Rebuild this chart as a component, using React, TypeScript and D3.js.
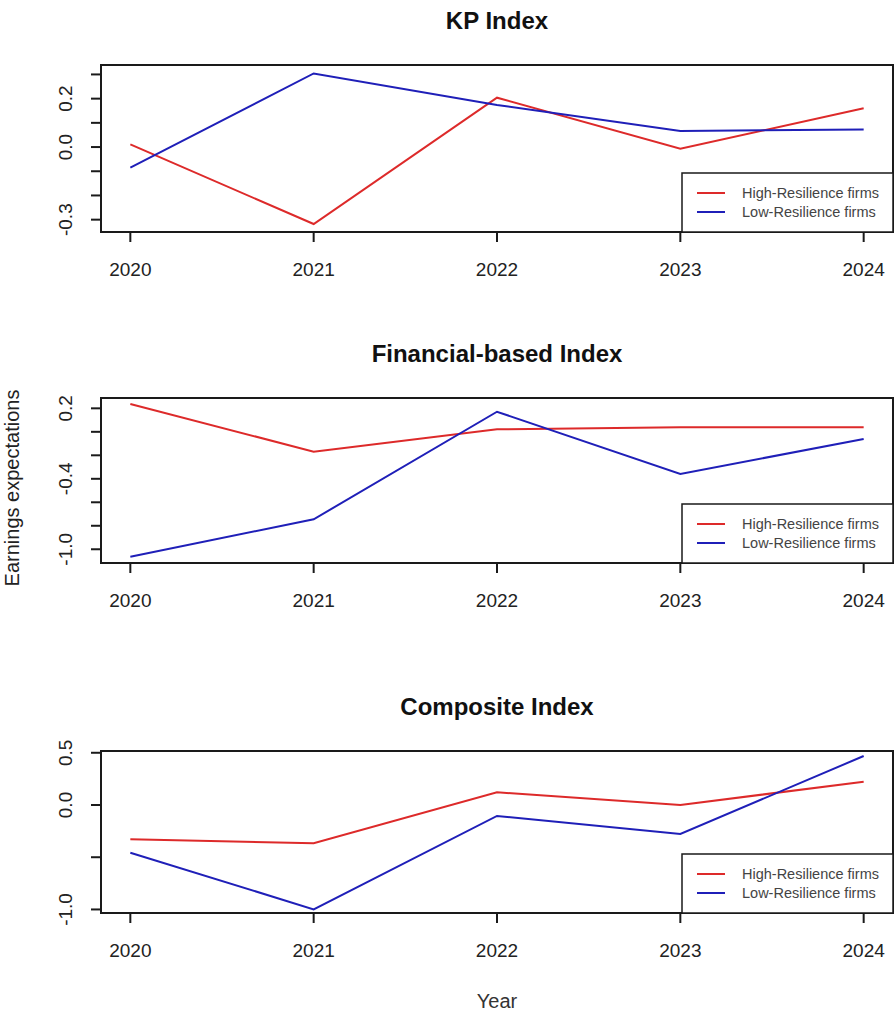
import { useEffect, useRef } from "react";
import * as d3 from "d3";

const years = [2020, 2021, 2022, 2023, 2024];
const seriesNames = ["High-Resilience firms", "Low-Resilience firms"];

const kpHigh = [0.011, -0.318, 0.204, -0.007, 0.16];
const kpLow = [-0.085, 0.304, 0.174, 0.066, 0.073];
const finHigh = [0.237, -0.169, 0.021, 0.038, 0.038];
const finLow = [-1.063, -0.745, 0.171, -0.359, -0.061];
const compHigh = [-0.329, -0.367, 0.122, 0.0, 0.223];
const compLow = [-0.457, -0.999, -0.105, -0.278, 0.469];

const kpTicks = [-0.3, -0.2, -0.1, 0, 0.1, 0.2, 0.3];
const kpLabels = [-0.3, 0, 0.2];
const finTicks = [-1.0, -0.8, -0.6, -0.4, -0.2, 0, 0.2];
const finLabels = [-1.0, -0.4, 0.2];
const compTicks = [-1.0, -0.5, 0, 0.5];
const compLabels = [-1.0, 0, 0.5];

const colors = ["#dd2a2a", "#1f1fb8"];
const font = "'Liberation Sans', Arial, sans-serif";

const width = 895;
const height = 1014;
const left = 101;
const right = 893;

const panels = [
  { title: "KP Index", high: kpHigh, low: kpLow, ticks: kpTicks, labels: kpLabels, domain: [-0.351, 0.339], top: 65, bottom: 232 },
  { title: "Financial-based Index", high: finHigh, low: finLow, ticks: finTicks, labels: finLabels, domain: [-1.117, 0.288], top: 398, bottom: 563 },
  { title: "Composite Index", high: compHigh, low: compLow, ticks: compTicks, labels: compLabels, domain: [-1.034, 0.517], top: 751, bottom: 913 },
];

export default function App() {
  const ref = useRef<SVGSVGElement | null>(null);

  useEffect(() => {
    const svg = d3.select(ref.current);
    svg.selectAll("*").remove();

    const x = d3.scaleLinear().domain([2019.84, 2024.16]).range([left, right]);

    panels.forEach((p) => {
      const y = d3.scaleLinear().domain(p.domain).range([p.bottom, p.top]);
      const g = svg.append("g");

      // title
      g.append("text")
        .attr("x", (left + right) / 2)
        .attr("y", p.top - 36)
        .attr("text-anchor", "middle")
        .attr("font-family", font)
        .attr("font-weight", "bold")
        .attr("font-size", 24)
        .attr("fill", "#111")
        .text(p.title);

      // lines
      [p.high, p.low].forEach((vals, i) => {
        const line = d3
          .line<number>()
          .x((_, j) => x(years[j]))
          .y((d) => y(d));
        g.append("path")
          .datum(vals)
          .attr("fill", "none")
          .attr("stroke", colors[i])
          .attr("stroke-width", 2)
          .attr("d", line);
      });

      // box
      g.append("rect")
        .attr("x", left)
        .attr("y", p.top)
        .attr("width", right - left)
        .attr("height", p.bottom - p.top)
        .attr("fill", "none")
        .attr("stroke", "#1a1a1a")
        .attr("stroke-width", 2);

      // x axis
      years.forEach((yr) => {
        g.append("line")
          .attr("x1", x(yr))
          .attr("x2", x(yr))
          .attr("y1", p.bottom)
          .attr("y2", p.bottom + 10)
          .attr("stroke", "#1a1a1a")
          .attr("stroke-width", 2);
        g.append("text")
          .attr("x", x(yr))
          .attr("y", p.bottom + 44)
          .attr("text-anchor", "middle")
          .attr("font-family", font)
          .attr("font-size", 19)
          .attr("fill", "#222")
          .text(String(yr));
      });

      // y axis
      p.ticks.forEach((t) => {
        g.append("line")
          .attr("x1", left - 10)
          .attr("x2", left)
          .attr("y1", y(t))
          .attr("y2", y(t))
          .attr("stroke", "#1a1a1a")
          .attr("stroke-width", 2);
      });
      p.labels.forEach((t) => {
        g.append("text")
          .attr("transform", `translate(${left - 29},${y(t)}) rotate(-90)`)
          .attr("text-anchor", "middle")
          .attr("font-family", font)
          .attr("font-size", 19)
          .attr("fill", "#222")
          .text(d3.format(".1f")(t).replace("−", "-"));
      });

      // legend
      const lx = 682;
      const ly = p.bottom - 59;
      g.append("rect")
        .attr("x", lx)
        .attr("y", ly)
        .attr("width", right - lx)
        .attr("height", p.bottom - ly)
        .attr("fill", "white")
        .attr("stroke", "#1a1a1a")
        .attr("stroke-width", 1.5);
      seriesNames.forEach((name, i) => {
        const yy = ly + 20 + i * 19;
        g.append("line")
          .attr("x1", lx + 15)
          .attr("x2", lx + 43)
          .attr("y1", yy)
          .attr("y2", yy)
          .attr("stroke", colors[i])
          .attr("stroke-width", 2);
        g.append("text")
          .attr("x", lx + 60)
          .attr("y", yy + 5)
          .attr("font-family", font)
          .attr("font-size", 14.5)
          .attr("fill", "#444")
          .text(name);
      });
    });

    svg.append("text")
      .attr("transform", `translate(19,488) rotate(-90)`)
      .attr("text-anchor", "middle")
      .attr("font-family", font)
      .attr("font-size", 20)
      .attr("fill", "#222")
      .text("Earnings expectations");

    svg.append("text")
      .attr("x", (left + right) / 2)
      .attr("y", 1008)
      .attr("text-anchor", "middle")
      .attr("font-family", font)
      .attr("font-size", 20)
      .attr("fill", "#333")
      .text("Year");
  }, []);

  return (
    <svg
      ref={ref}
      width={width}
      height={height}
      style={{ position: "absolute", left: 0, top: 0, background: "white" }}
    />
  );
}
